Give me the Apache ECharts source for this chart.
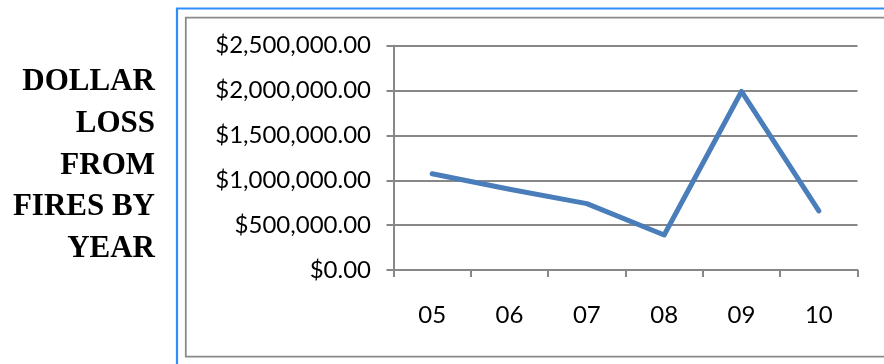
<!DOCTYPE html>
<html>
<head>
<meta charset="utf-8">
<script src="https://cdn.jsdelivr.net/npm/echarts@6/dist/echarts.min.js"></script>
<style>
html,body{margin:0;padding:0;background:#fff;}
#main{width:884px;height:364px;}
</style>
</head>
<body>
<div id="main"></div>
<script>
const titleText = 'DOLLAR\nLOSS\nFROM\nFIRES BY\nYEAR';
const categories = ['05', '06', '07', '08', '09', '10'];
const dollarLoss = [1073000, 900000, 740000, 390000, 1990000, 660000];
const yTicks = { min: 0, max: 2500000, interval: 500000 };

const chart = echarts.init(document.getElementById('main'), null, { renderer: 'canvas' });
const gray = '#878787';
const fmt = v => '$' + v.toLocaleString('en-US', { minimumFractionDigits: 2, maximumFractionDigits: 2 });

chart.setOption({
  backgroundColor: '#fff',
  animation: false,
  graphic: [
    { type: 'rect', shape: { x: 177, y: 8.5, width: 800, height: 420 },
      style: { fill: 'none', stroke: '#2f8ef7', lineWidth: 2.2 }, silent: true },
    { type: 'rect', shape: { x: 185.8, y: 17.7, width: 800, height: 339 },
      style: { fill: 'none', stroke: '#8a8a8a', lineWidth: 1.8 }, silent: true },
    { type: 'text', x: 155, y: 61.3,
      style: { text: titleText, textAlign: 'right', textVerticalAlign: 'top',
        font: 'bold 31px "Liberation Serif", "Times New Roman", serif',
        lineHeight: 41.7, fill: '#000' }, silent: true }
  ],
  grid: { left: 393.5, right: 26.5, top: 45.7, bottom: 94, containLabel: false, outerBoundsMode: 'none' },
  xAxis: {
    type: 'category',
    data: categories,
    boundaryGap: true,
    axisLine: { show: true, lineStyle: { color: gray, width: 2 } },
    axisTick: { show: true, length: 7, lineStyle: { color: gray, width: 2 } },
    axisLabel: { margin: 33, color: '#000', fontFamily: 'Lato', fontSize: 24 },
    splitLine: { show: false }
  },
  yAxis: {
    type: 'value',
    min: yTicks.min, max: yTicks.max, interval: yTicks.interval,
    axisLine: { show: true, lineStyle: { color: gray, width: 2 } },
    axisTick: { show: true, length: 7, lineStyle: { color: gray, width: 2 } },
    axisLabel: { margin: 22.5, color: '#000', fontFamily: 'Lato', fontSize: 24, formatter: fmt, padding: [3, 0, 0, 0] },
    splitLine: { show: true, lineStyle: { color: gray, width: 2 } }
  },
  series: [{
    type: 'line',
    data: dollarLoss,
    symbol: 'none',
    lineStyle: { color: '#4a7ebb', width: 5, cap: 'round', join: 'round' }
  }]
});
</script>
</body>
</html>
